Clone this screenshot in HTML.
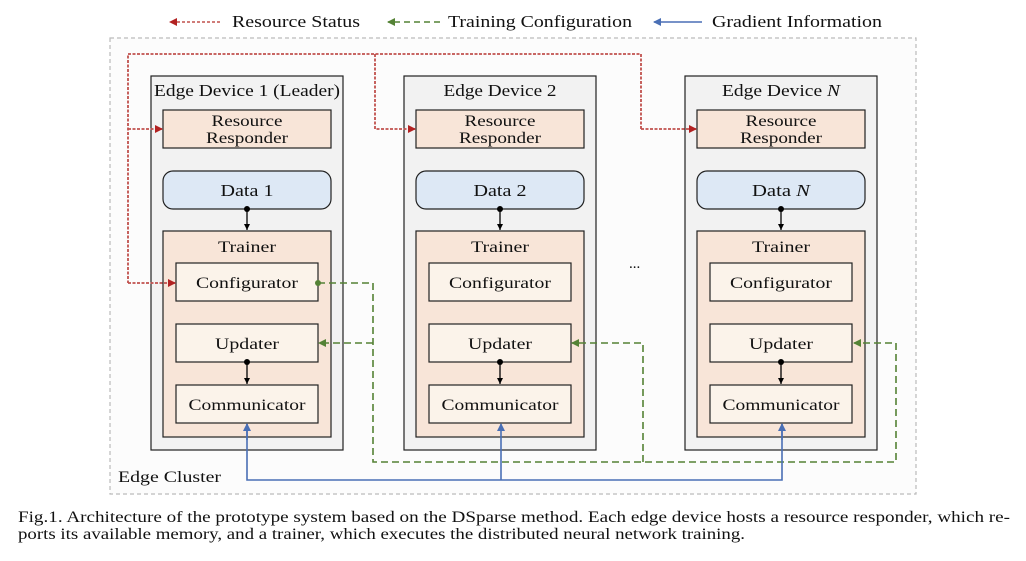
<!DOCTYPE html>
<html><head><style>
body{margin:0;background:#fff;width:1026px;height:556px;overflow:hidden}
svg text{font-family:"Liberation Serif",serif;fill:#111}
</style></head><body>
<svg width="1026" height="556" viewBox="0 0 1026 556" xmlns="http://www.w3.org/2000/svg">
<defs>
<marker id="ar" markerWidth="8" markerHeight="8" refX="7" refY="4" orient="auto" markerUnits="userSpaceOnUse"><path d="M0,0 L8,4 L0,8z" fill="#b22222"/></marker>
<marker id="ag" markerWidth="8" markerHeight="8" refX="7" refY="4" orient="auto" markerUnits="userSpaceOnUse"><path d="M0,0 L8,4 L0,8z" fill="#548235"/></marker>
<marker id="ab" markerWidth="8" markerHeight="10" refX="7" refY="4" orient="auto" markerUnits="userSpaceOnUse"><path d="M0,0 L8,4 L0,8z" fill="#4a6fb5"/></marker>
<marker id="ak" markerWidth="6" markerHeight="8" refX="6" refY="3" orient="auto" markerUnits="userSpaceOnUse"><path d="M0,0 L6,3 L0,6z" fill="#000"/></marker>
</defs>
<!-- legend -->
<line x1="220" y1="22" x2="170" y2="22" stroke="#c0504d" stroke-width="1.5" stroke-dasharray="3,2" marker-end="url(#ar)"/>
<text x="232" y="27" font-size="16.5" textLength="128" lengthAdjust="spacingAndGlyphs">Resource Status</text>
<line x1="440" y1="22" x2="388" y2="22" stroke="#548235" stroke-width="1.5" stroke-dasharray="6,4" marker-end="url(#ag)"/>
<text x="448" y="27" font-size="16.5" textLength="184" lengthAdjust="spacingAndGlyphs">Training Configuration</text>
<line x1="702" y1="22" x2="654" y2="22" stroke="#4a6fb5" stroke-width="1.5" marker-end="url(#ab)"/>
<text x="712" y="27" font-size="16.5" textLength="170" lengthAdjust="spacingAndGlyphs">Gradient Information</text>
<!-- cluster -->
<rect x="110" y="38" width="806" height="456" fill="#fcfcfc" stroke="#bbb" stroke-dasharray="4,3" stroke-width="1.2"/>
<text x="118" y="482" font-size="16" textLength="103" lengthAdjust="spacingAndGlyphs">Edge Cluster</text>
<text x="629" y="268" font-size="15">...</text>
<!-- devices -->
<g id="d1">
<rect x="151" y="76" width="192" height="374" fill="#f2f2f2" stroke="#222" stroke-width="1.2"/>
<rect x="163" y="110" width="168" height="38" fill="#f8e5d8" stroke="#222" stroke-width="1.2"/>
<rect x="163" y="171" width="168" height="38" rx="10" fill="#dde8f5" stroke="#222" stroke-width="1.2"/>
<rect x="163" y="231" width="168" height="206" fill="#f8e5d8" stroke="#222" stroke-width="1.2"/>
<rect x="176" y="263" width="142" height="38" fill="#fbf3ea" stroke="#222" stroke-width="1.2"/>
<rect x="176" y="324" width="142" height="38" fill="#fbf3ea" stroke="#222" stroke-width="1.2"/>
<rect x="176" y="385" width="142" height="38" fill="#fbf3ea" stroke="#222" stroke-width="1.2"/>
<text x="247" y="126" font-size="16" text-anchor="middle" textLength="71" lengthAdjust="spacingAndGlyphs">Resource</text>
<text x="247" y="143" font-size="16" text-anchor="middle" textLength="82" lengthAdjust="spacingAndGlyphs">Responder</text>
<text x="247" y="252" font-size="16" text-anchor="middle" textLength="58" lengthAdjust="spacingAndGlyphs">Trainer</text>
<text x="247" y="288" font-size="16" text-anchor="middle" textLength="102" lengthAdjust="spacingAndGlyphs">Configurator</text>
<text x="247" y="349" font-size="16" text-anchor="middle" textLength="64" lengthAdjust="spacingAndGlyphs">Updater</text>
<text x="247" y="410" font-size="16" text-anchor="middle" textLength="117" lengthAdjust="spacingAndGlyphs">Communicator</text>
<circle cx="247" cy="209" r="3"/><line x1="247" y1="209" x2="247" y2="230" stroke="#000" stroke-width="1.3" marker-end="url(#ak)"/>
<circle cx="247" cy="362" r="3"/><line x1="247" y1="362" x2="247" y2="384" stroke="#000" stroke-width="1.3" marker-end="url(#ak)"/>
</g>
<use href="#d1" x="253"/>
<use href="#d1" x="534"/>
<text x="247" y="96" font-size="16.5" text-anchor="middle" textLength="186" lengthAdjust="spacingAndGlyphs">Edge Device 1 (Leader)</text>
<text x="500" y="96" font-size="16.5" text-anchor="middle" textLength="113" lengthAdjust="spacingAndGlyphs">Edge Device 2</text>
<text x="781" y="96" font-size="16.5" text-anchor="middle" textLength="118" lengthAdjust="spacingAndGlyphs">Edge Device <tspan font-style="italic">N</tspan></text>
<text x="247" y="196" font-size="16.5" text-anchor="middle" textLength="53" lengthAdjust="spacingAndGlyphs">Data 1</text>
<text x="500" y="196" font-size="16.5" text-anchor="middle" textLength="53" lengthAdjust="spacingAndGlyphs">Data 2</text>
<text x="781" y="196" font-size="16.5" text-anchor="middle" textLength="58" lengthAdjust="spacingAndGlyphs">Data <tspan font-style="italic">N</tspan></text>
<!-- red -->
<g fill="none" stroke="#c0504d" stroke-width="1.8" stroke-dasharray="3,1.5">
<path d="M641,129 V54 H128 V283"/>
<path d="M128,129 H162" marker-end="url(#ar)"/>
<path d="M128,283 H175" marker-end="url(#ar)"/>
<path d="M375,54 V129 H415" marker-end="url(#ar)"/>
<path d="M641,129 H696" marker-end="url(#ar)"/>
</g>
<!-- green -->
<g fill="none" stroke="#548235" stroke-width="1.6" stroke-dasharray="7,4">
<path d="M318,283 H373 V462 H896 V343 H854" marker-end="url(#ag)"/>
<path d="M373,343 H319" marker-end="url(#ag)"/>
<path d="M643,462 V343 H572" marker-end="url(#ag)"/>
</g>
<circle cx="318" cy="283" r="3" fill="#548235"/>
<!-- blue -->
<g fill="none" stroke="#4a6fb5" stroke-width="1.6">
<path d="M247,424 V480 H782 V424"/>
<path d="M247,440 V424" marker-end="url(#ab)"/>
<path d="M501,480 V424" marker-end="url(#ab)"/>
<path d="M782,440 V424" marker-end="url(#ab)"/>
</g>
<!-- caption -->
<text x="18" y="522" font-size="15.5" textLength="992" lengthAdjust="spacingAndGlyphs">Fig.1.  Architecture of the prototype system based on the DSparse method. Each edge device hosts a resource responder, which re-</text>
<text x="18" y="539" font-size="15.5" textLength="727" lengthAdjust="spacingAndGlyphs">ports its available memory, and a trainer, which executes the distributed neural network training.</text>
</svg>
</body></html>
